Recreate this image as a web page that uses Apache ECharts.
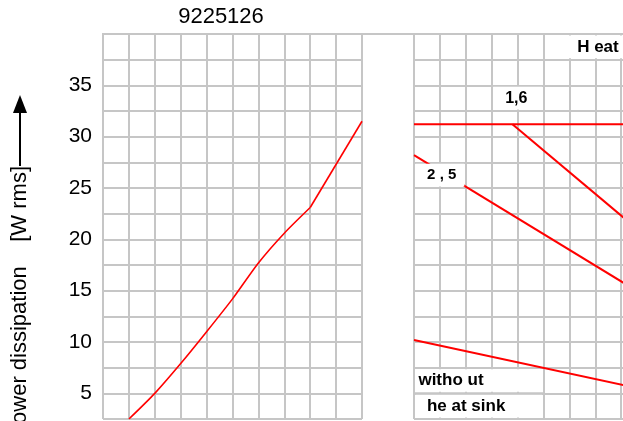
<!DOCTYPE html>
<html>
<head>
<meta charset="utf-8">
<script src="https://cdn.jsdelivr.net/npm/echarts@6/dist/echarts.min.js"></script>
<style>html,body{margin:0;padding:0;background:#fff}#c{width:623px;height:421px}</style>
</head>
<body>
<div id="c"></div>
<script>
// ---- data (x in grid columns, y in W rms) ----
const chartTitle = '9225126';
const yTickLabels = [5, 10, 15, 20, 25, 30, 35];
const leftX = [1, 2, 3, 4, 5, 6, 7, 8, 10];
const leftW = [2.5, 5, 7.9, 11, 14.2, 17.7, 20.6, 23.1, 31.5];
const limitX = [0, 8.1];
const limitW = [31.2, 31.2];
const rth16X = [3.8, 8.1];
const rth16W = [31.2, 22.1];
const rth25X = [0, 8.1];
const rth25W = [28.2, 15.75];
const noSinkX = [0, 8.1];
const noSinkW = [10.2, 5.8];
const yTitle = 'Power dissipation    [W rms]';

const pair = (xs, ys) => xs.map((x, i) => [x, ys[i]]);
const FONT = '"Liberation Sans", Arial, sans-serif';
const GRID = '#c6c6c6';
const COLW = 25.9;
const RIGHT_W = 623 - 414;
const RIGHT_MAX = RIGHT_W / COLW;

const chart = echarts.init(document.getElementById('c'), null, {renderer: 'canvas'});
const xAx = (gi, max, showMax) => ({
  type: 'value', gridIndex: gi, min: 0, max: max, interval: 1,
  axisLine: {show: false}, axisTick: {show: false}, axisLabel: {show: false},
  splitLine: {show: true, showMaxLine: showMax, lineStyle: {color: GRID, width: 2}}
});
const yAx = (gi, lab) => ({
  type: 'value', gridIndex: gi, min: 2.5, max: 40, interval: 2.5,
  axisLine: {show: false}, axisTick: {show: false},
  axisLabel: {show: lab, color: '#000', fontSize: 21, fontFamily: 'Liberation Sans', margin: 11,
    formatter: v => yTickLabels.indexOf(v) >= 0 ? String(v) : ''},
  splitLine: {show: true, lineStyle: {color: GRID, width: 2}}
});
const line = (gi, data, w, smooth) => ({
  type: 'line', xAxisIndex: gi, yAxisIndex: gi, data: data, symbol: 'none',
  smooth: smooth || false,
  lineStyle: {color: '#ff0000', width: w}, animation: false, silent: true
});
chart.setOption({
  animation: false,
  grid: [
    {left: 103, top: 34, width: 10 * COLW, height: 385},
    {left: 414, top: 34, width: RIGHT_W, height: 385}
  ],
  xAxis: [xAx(0, 10, true), xAx(1, RIGHT_MAX, false)],
  yAxis: [yAx(0, true), yAx(1, false)],
  series: [
    line(0, pair(leftX.slice(0, 8), leftW.slice(0, 8)), 1.6, 0.25),
    line(0, pair(leftX.slice(7), leftW.slice(7)), 1.6),
    line(1, pair(limitX, limitW), 2),
    line(1, pair(rth16X, rth16W), 2),
    line(1, pair(rth25X, rth25W), 2),
    line(1, pair(noSinkX, noSinkW), 2)
  ]
});

const P = (gi, x, y) => chart.convertToPixel({gridIndex: gi}, [x, y]);
function box(x0, y0, x1, y1) {
  const a = P(1, x0, y1), b = P(1, x1, y0);
  return {type: 'rect', z: 50, shape: {x: a[0] + 1.5, y: a[1] + 1.5, width: b[0] - a[0] - 3, height: b[1] - a[1] - 3},
    style: {fill: '#fff'}, silent: true};
}
function hline(x0, x1, y) {
  const a = P(1, x0, y), b = P(1, x1, y);
  return {type: 'line', z: 55, shape: {x1: a[0], y1: a[1], x2: b[0], y2: b[1]}, style: {stroke: GRID, lineWidth: 2}, silent: true};
}
function label(text, gx, gy, align, size) {
  const p = P(1, gx, gy);
  return {type: 'text', z: 60, x: p[0], y: p[1],
    style: {text: text, fill: '#000', font: 'bold ' + size + 'px ' + FONT, align: align, verticalAlign: 'middle'}};
}
const topL = P(0, 0, 40);
const g = [
  {type: 'line', z: 40, shape: {x1: topL[0] - 1, y1: topL[1], x2: 623, y2: topL[1]}, style: {stroke: GRID, lineWidth: 2}},
  box(5, 37.5, 9, 40), label('H eat', 6.3, 38.75, 'left', 17),
  box(3, 32.5, 5, 35), label('1,6', 3.95, 33.75, 'center', 16),
  box(0, 25, 2, 27.5), label('2 , 5', 1.07, 26.25, 'center', 15),
  box(0, 5, 5, 7.5), label('witho ut', 0.17, 6.25, 'left', 17),
  box(0, 2.5, 5, 5), label('he at sink', 0.5, 3.75, 'left', 17),
  hline(0, 5, 5),
  {type: 'text', z: 60, x: 221, y: 17, style: {text: chartTitle, fill: '#000', font: '22px ' + FONT, align: 'center', verticalAlign: 'middle'}},
  {type: 'text', z: 60, x: 20, y: 166, rotation: Math.PI / 2,
    style: {text: yTitle, fill: '#000', font: '22px ' + FONT, align: 'right', verticalAlign: 'middle'}},
  {type: 'line', z: 60, shape: {x1: 20, y1: 166, x2: 20, y2: 110}, style: {stroke: '#000', lineWidth: 2}},
  {type: 'polygon', z: 60, shape: {points: [[20, 95], [13, 113], [27, 113]]}, style: {fill: '#000'}}
];
chart.setOption({graphic: g});
</script>
</body>
</html>
